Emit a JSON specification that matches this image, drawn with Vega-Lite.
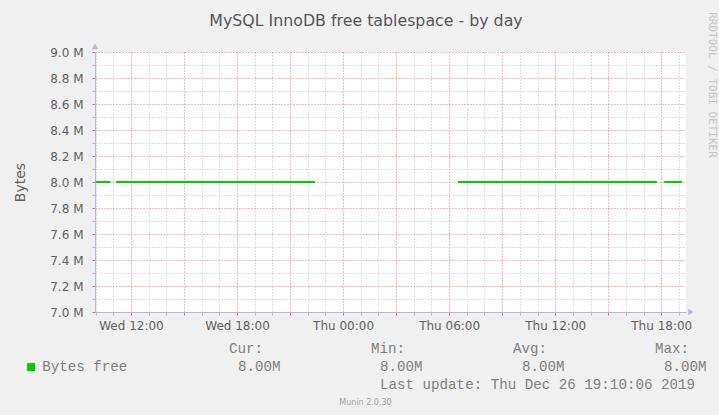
{
  "$schema": "https://vega.github.io/schema/vega-lite/v6.json",
  "width": 591,
  "height": 260,
  "autosize": {"type": "none"},
  "padding": {"left": 95, "top": 52, "right": 33, "bottom": 103},
  "background": "#f0f0f0",
  "view": {"fill": "#ffffff", "stroke": null},
  "config": {"font": "DejaVu Sans"},
  "resolve": {"scale": {"x": "independent", "y": "independent"}},
  "layer": [
    {
      "data": {
        "values": [
          {"time": "2019-12-25T10:00:00Z", "bytes": 8000000, "seg": 1, "series": "Bytes free"},
          {"time": "2019-12-25T10:50:00Z", "bytes": 8000000, "seg": 1, "series": "Bytes free"},
          {"time": "2019-12-25T11:10:00Z", "bytes": 8000000, "seg": 2, "series": "Bytes free"},
          {"time": "2019-12-25T22:25:00Z", "bytes": 8000000, "seg": 2, "series": "Bytes free"},
          {"time": "2019-12-26T06:30:00Z", "bytes": 8000000, "seg": 3, "series": "Bytes free"},
          {"time": "2019-12-26T17:45:00Z", "bytes": 8000000, "seg": 3, "series": "Bytes free"},
          {"time": "2019-12-26T18:10:00Z", "bytes": 8000000, "seg": 4, "series": "Bytes free"},
          {"time": "2019-12-26T19:10:00Z", "bytes": 8000000, "seg": 4, "series": "Bytes free"}
        ]
      },
      "mark": {"type": "line", "strokeWidth": 2},
      "encoding": {
        "x": {
          "field": "time",
          "type": "temporal",
          "scale": {"type": "utc", "domain": [1577267880000, 1577388240000]},
          "axis": {
            "title": null,
            "tickCount": 34,
            "labelExpr": "utchours(datum.value) % 6 == 0 ? utcFormat(datum.value, '%a %H:%M') : ''",
            "labelOverlap": false,
            "labelFlush": false,
            "labelBound": false,
            "labelFont": "DejaVu Sans",
            "labelFontSize": 12,
            "labelColor": "#606060",
            "labelPadding": 5,
            "tickSize": 3,
            "tickColor": {"condition": {"test": "utchours(datum.value) % 3 == 0", "value": "#ff6060"}, "value": "#bbbbbb"},
            "grid": true,
            "gridColor": {"condition": {"test": "utchours(datum.value) % 3 == 0", "value": "#ff6a6a"}, "value": "#bdbdbd"},
            "gridDash": [1, 2],
            "gridOpacity": 1,
            "domainColor": "#b4b4f0"
          }
        },
        "y": {
          "field": "bytes",
          "type": "quantitative",
          "scale": {"domain": [7000000, 9000000], "nice": false, "zero": false},
          "axis": {
            "values": [7000000, 7100000, 7200000, 7300000, 7400000, 7500000, 7600000, 7700000, 7800000, 7900000, 8000000, 8100000, 8200000, 8300000, 8400000, 8500000, 8600000, 8700000, 8800000, 8900000, 9000000],
            "labelExpr": "round(datum.value / 100000) % 2 == 0 ? format(datum.value / 1000000, '.1f') + ' M' : ''",
            "labelOverlap": false,
            "labelFont": "DejaVu Sans",
            "labelFontSize": 12,
            "labelColor": "#606060",
            "labelPadding": 9,
            "tickSize": 3,
            "tickColor": {"condition": {"test": "round(datum.value / 100000) % 2 == 0", "value": "#ff6060"}, "value": "#bbbbbb"},
            "grid": true,
            "gridColor": {"condition": {"test": "round(datum.value / 100000) % 2 == 0", "value": "#ff6a6a"}, "value": "#bdbdbd"},
            "gridDash": [1, 2],
            "gridOpacity": 1,
            "domainColor": "#b4b4f0",
            "title": "Bytes",
            "titleFont": "DejaVu Sans",
            "titleFontSize": 14,
            "titleFontWeight": "normal",
            "titleColor": "#606060",
            "titlePadding": 22
          }
        },
        "detail": {"field": "seg", "type": "nominal"},
        "color": {
          "field": "series",
          "type": "nominal",
          "scale": {"range": ["#00cc00"]},
          "legend": {
            "orient": "none",
            "legendX": -71,
            "legendY": 308,
            "title": null,
            "padding": 0,
            "symbolType": "square",
            "symbolSize": 64,
            "symbolStrokeWidth": 0,
            "symbolFillColor": "#00cc00",
            "labelFont": "Liberation Mono",
            "labelFontSize": 14.2,
            "labelColor": "#808080",
            "labelOffset": 4,
            "encode": {"symbols": {"update": {"fill": {"value": "#00cc00"}, "strokeWidth": {"value": 0}, "opacity": {"value": 1}}}}
          }
        }
      }
    },
    {
      "data": {"values": [{}]},
      "mark": {"type": "rule", "opacity": 0},
      "encoding": {
        "x": {
          "datum": 1577267880000,
          "type": "temporal",
          "scale": {"type": "utc", "domain": [1577267880000, 1577388240000]},
          "axis": {
            "orient": "top",
            "title": "MySQL InnoDB free tablespace - by day",
            "labels": false,
            "ticks": false,
            "domain": false,
            "grid": false,
            "titleX": 270.5,
            "titleY": -27,
            "titleAlign": "center",
            "titleBaseline": "alphabetic",
            "titleAngle": 0,
            "titleFont": "DejaVu Sans",
            "titleFontSize": 15.8,
            "titleFontWeight": "normal",
            "titleColor": "#555555"
          }
        },
        "y": {
          "datum": 9000000,
          "type": "quantitative",
          "scale": {"domain": [7000000, 9000000]},
          "axis": {
            "orient": "right",
            "title": "RRDTOOL / TOBI OETIKER",
            "labels": false,
            "ticks": false,
            "domain": false,
            "grid": false,
            "titleAngle": 90,
            "titleX": 25.5,
            "titleY": 32.5,
            "titleAlign": "center",
            "titleBaseline": "middle",
            "titleFont": "DejaVu Sans Mono",
            "titleFontSize": 11,
            "titleFontWeight": "normal",
            "titleColor": "#c4c4c4"
          }
        }
      }
    },
    {
      "data": {"values": [{}]},
      "encoding": {
        "x": {"type": "temporal", "scale": {"type": "utc", "domain": [1577267880000, 1577388240000]}, "axis": null},
        "y": {"type": "quantitative", "scale": {"domain": [7000000, 9000000]}, "axis": null}
      },
      "layer": [
        {
          "mark": {"type": "point", "shape": "triangle-up", "filled": true, "size": 42, "color": "#b4b4f0", "opacity": 1},
          "encoding": {
            "x": {"datum": 1577267880000, "type": "temporal"},
            "y": {"datum": 9043000, "type": "quantitative"}
          }
        },
        {
          "mark": {"type": "point", "shape": "triangle-right", "filled": true, "size": 42, "color": "#b4b4f0", "opacity": 1},
          "encoding": {
            "x": {"datum": 1577389260000, "type": "temporal"},
            "y": {"datum": 7000000, "type": "quantitative"}
          }
        }
      ]
    },
    {
      "data": {
        "values": [
          {"stat": "Cur", "value": 8000000},
          {"stat": "Min", "value": 8000000},
          {"stat": "Avg", "value": 8000000},
          {"stat": "Max", "value": 8000000}
        ]
      },
      "encoding": {
        "x": {"field": "stat", "type": "nominal", "scale": {"type": "point", "domain": ["Cur", "Min", "Avg", "Max"], "range": [143, 569], "padding": 0}, "axis": null}
      },
      "layer": [
        {
          "transform": [{"calculate": "datum.stat + ':'", "as": "label"}],
          "mark": {"type": "text", "align": "left", "baseline": "middle", "dx": -9, "font": "Liberation Mono", "fontSize": 14.2, "color": "#808080"},
          "encoding": {
            "y": {"datum": "header", "type": "nominal", "scale": {"type": "point", "domain": ["header", "value", "update", "version"], "range": [297, 351], "padding": 0}, "axis": null},
            "text": {"field": "label"}
          }
        },
        {
          "mark": {"type": "text", "align": "left", "baseline": "middle", "font": "Liberation Mono", "fontSize": 14.2, "color": "#808080"},
          "encoding": {
            "y": {"datum": "value", "type": "nominal"},
            "text": {"field": "value", "type": "quantitative", "format": ".3s"}
          }
        },
        {
          "data": {"values": [{}]},
          "mark": {"type": "text", "align": "left", "baseline": "middle", "font": "Liberation Mono", "fontSize": 14.2, "color": "#808080"},
          "encoding": {
            "x": {"datum": "Min", "type": "nominal"},
            "y": {"datum": "update", "type": "nominal"},
            "text": {"value": "Last update: Thu Dec 26 19:10:06 2019"}
          }
        },
        {
          "data": {"values": [{}]},
          "mark": {"type": "text", "align": "center", "baseline": "middle", "dx": -14.5, "font": "DejaVu Sans", "fontSize": 8, "color": "#a0a0a0"},
          "encoding": {
            "x": {"datum": "Min", "type": "nominal"},
            "y": {"datum": "version", "type": "nominal"},
            "text": {"value": "Munin 2.0.30"}
          }
        }
      ]
    }
  ]
}
